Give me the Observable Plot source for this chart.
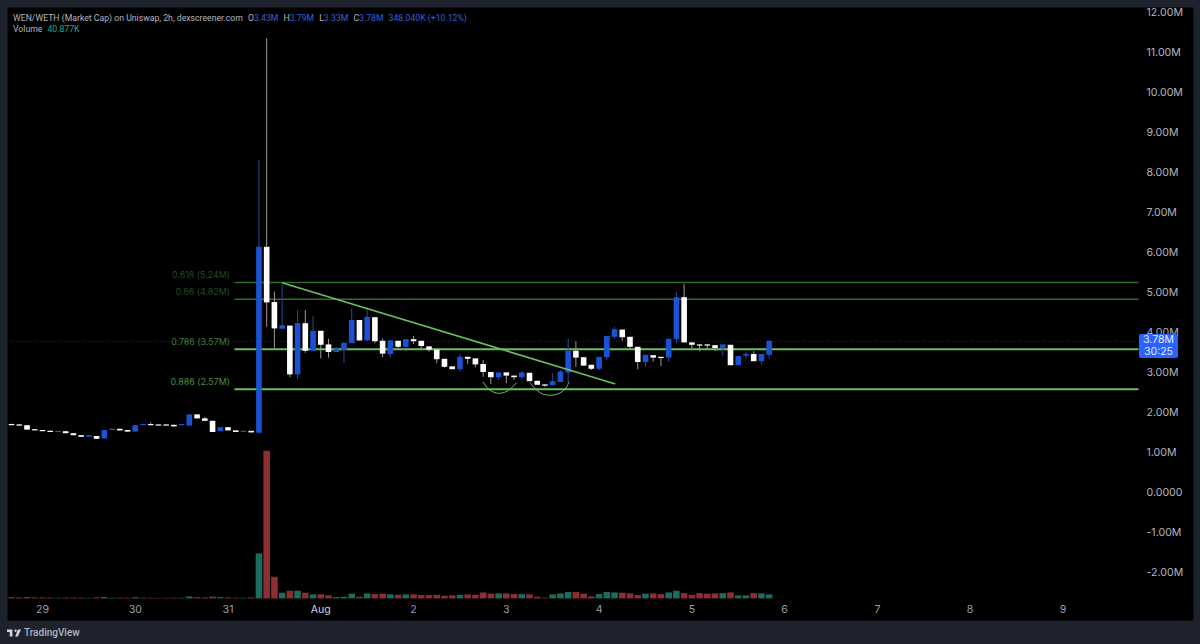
<!DOCTYPE html>
<html>
<head>
<meta charset="utf-8">
<script src="https://cdn.jsdelivr.net/npm/d3@7"></script>
<script src="https://cdn.jsdelivr.net/npm/@observablehq/plot@0.6"></script>
<style>
html,body{margin:0;padding:0;background:#1e222d;width:1200px;height:644px;overflow:hidden;font-family:Inter,"Noto Sans",sans-serif;}
#wrap{position:relative;width:1200px;height:644px;}
#wrap svg{display:block;}
.hdr{position:absolute;left:13px;font-family:Roboto,sans-serif;font-size:8.7px;line-height:12px;color:#b2b5be;white-space:nowrap;}
.hdr b{font-weight:400;color:#2f62d8;}
.hdr i{font-style:normal;color:#22ab94;}
.hdr span{margin-left:5px;}
.hdr span:first-child{margin-left:0;}
#badge{position:absolute;left:1139px;top:334px;width:39px;height:24px;background:#2962ff;border-radius:2px;color:#e8ecff;font-size:10.5px;line-height:12px;text-align:center;}
#tv{position:absolute;left:7px;top:625px;height:14px;display:flex;align-items:center;gap:3px;color:#b2b5be;font-family:Roboto,sans-serif;font-size:10px;font-weight:500;}
</style>
</head>
<body>
<div id="wrap"></div>
<script>
// Candles start 28 Jul 2024 16:00 UTC, one every 2 hours. Values in millions.
const startTime = Date.UTC(2024, 6, 28, 16);
const opens = [1.70,1.69,1.67,1.57,1.55,1.53,1.50,1.52,1.47,1.42,1.38,1.40,1.34,1.55,1.58,1.55,1.51,1.67,1.70,1.69,1.69,1.68,1.67,1.66,1.94,1.84,1.78,1.52,1.62,1.54,1.50,1.53,
  1.48,6.13,4.75,4.08,4.16,2.94,4.22,3.53,4.03,3.69,3.50,3.55,3.72,4.30,3.79,4.37,3.78,3.45,3.78,3.63,3.82,3.78,3.64,3.56,3.33,3.14,3.07,3.38,3.34,3.20,3.00,2.87,2.99,2.91,2.87,2.98,2.78,2.69,2.67,2.75,2.99,3.53,3.37,3.18,3.08,3.37,3.88,4.06,3.88,3.63,3.25,3.42,3.38,3.36,3.82,4.87,3.74,3.69,3.69,3.67,3.60,3.68,3.17,3.41,3.45,3.27,3.43];
const closes = [1.69,1.67,1.56,1.54,1.52,1.50,1.52,1.47,1.42,1.38,1.42,1.33,1.55,1.58,1.54,1.51,1.67,1.70,1.68,1.68,1.68,1.64,1.68,1.94,1.84,1.78,1.50,1.62,1.54,1.50,1.53,1.49,
  6.13,4.74,4.09,4.17,2.94,4.22,3.53,4.03,3.68,3.50,3.58,3.73,4.30,3.79,4.38,3.77,3.46,3.79,3.63,3.82,3.77,3.65,3.56,3.32,3.13,3.07,3.38,3.33,3.19,3.00,2.87,2.99,2.91,2.87,2.99,2.77,2.68,2.67,2.77,3.01,3.53,3.36,3.16,3.08,3.38,3.90,4.07,3.87,3.63,3.25,3.43,3.36,3.36,3.83,4.87,3.74,3.68,3.67,3.67,3.60,3.69,3.17,3.40,3.45,3.27,3.45,3.78];
const highs = [1.71,1.70,1.67,1.57,1.55,1.53,1.53,1.52,1.47,1.42,1.42,1.40,1.55,1.59,1.58,1.55,1.67,1.71,1.74,1.69,1.69,1.68,1.68,1.94,1.94,1.88,1.78,1.62,1.62,1.54,1.53,1.53,
  8.30,11.35,5.01,5.18,4.16,4.55,4.55,4.40,4.03,3.83,3.63,3.73,4.59,4.30,4.63,4.37,3.84,3.79,3.78,3.82,3.90,3.78,3.64,3.56,3.33,3.14,3.44,3.38,3.34,3.30,3.00,2.99,2.99,2.91,3.02,2.98,2.78,2.69,2.97,3.05,3.84,3.76,3.37,3.18,3.38,3.90,4.13,4.06,3.88,3.63,3.43,3.42,3.38,3.83,5.01,5.20,3.74,3.69,3.69,3.67,3.69,3.68,3.40,3.51,3.52,3.45,3.79];
const lows = [1.69,1.67,1.56,1.54,1.52,1.50,1.50,1.47,1.42,1.38,1.38,1.33,1.34,1.55,1.54,1.51,1.51,1.67,1.68,1.68,1.68,1.64,1.66,1.66,1.84,1.78,1.50,1.52,1.54,1.50,1.50,1.49,
  1.48,4.13,3.59,4.08,2.87,2.82,3.48,3.53,3.34,3.36,3.50,3.23,3.72,3.79,3.79,3.72,3.37,3.37,3.55,3.63,3.70,3.57,3.51,3.22,3.11,3.07,3.02,3.20,3.12,2.88,2.70,2.80,2.72,2.80,2.82,2.77,2.68,2.63,2.67,2.75,2.76,3.13,3.16,3.05,3.05,3.30,3.82,3.78,3.59,3.07,3.12,3.26,3.15,3.26,3.72,3.74,3.59,3.52,3.59,3.53,3.40,3.17,3.17,3.34,3.27,3.19,3.33];
const volumes = [12,10,14,10,10,9,6,8,8,7,5,10,14,6,8,7,12,7,6,5,6,7,6,20,12,10,18,12,10,7,6,10,
  460,1510,221,58,78,78,58,41,41,31,14,17,48,17,51,44,48,41,37,41,41,34,34,37,27,31,37,41,37,61,48,51,51,44,44,41,17,7,41,51,65,65,48,20,44,65,61,58,51,34,48,51,44,61,78,54,37,54,48,51,54,61,31,31,54,51,41];

const priceTicks = [12,11,10,9,8,7,6,5,4,3,2,1,0,-1,-2];
const priceLabels = ["12.00M","11.00M","10.00M","9.00M","8.00M","7.00M","6.00M","5.00M","4.00M","3.00M","2.00M","1.00M","0.0000","-1.00M","-2.00M"];
const dayTicks = ["2024-07-29","2024-07-30","2024-07-31","2024-08-01","2024-08-02","2024-08-03","2024-08-04","2024-08-05","2024-08-06","2024-08-07","2024-08-08","2024-08-09"];
const dayLabels = ["29","30","31","Aug","2","3","4","5","6","7","8","9"];

const fibLevels = [5.25,4.83,3.58,2.58];
const fibLabels = ["0.618 (5.24M)","0.66 (4.82M)","0.786 (3.57M)","0.886 (2.57M)"];
const fibTextColors = ["#1f4d26","#1f4d26","#3f7d40","#4a8c48"];
const fibLineColors = ["#2f6a2f","#2f6a2f","#6cbf60","#6cbf60"];
const fibWidths = [1.4,1.4,2,2];
const fibFrom = new Date("2024-07-31T01:48Z");
const fibTo = new Date("2024-08-09T19:40Z");

const trendTimes = ["2024-07-31T14:10Z","2024-08-04T04:00Z"];
const trendValues = [5.24,2.72];
const arc1Times = ["2024-08-02T18:00Z","2024-08-02T19:36Z","2024-08-02T22:12Z","2024-08-03T00:48Z","2024-08-03T02:36Z"];
const arc1Values = [2.76,2.57,2.48,2.57,2.74];
const arc2Times = ["2024-08-03T06:12Z","2024-08-03T08:12Z","2024-08-03T11:12Z","2024-08-03T14:36Z","2024-08-03T16:12Z"];
const arc2Values = [2.74,2.53,2.43,2.53,2.76];

const lastPrice = 3.78;
const volumeBase = -2.66;      // the volume pane's zero on the shared axis
const volumePerUnit = 409;     // thousands of volume per axis unit

const candles = opens.map((o,i)=>({
  t:new Date(startTime + i*2*3600e3),
  open:o, close:closes[i], high:highs[i], low:lows[i], vol:volumes[i],
  up:closes[i] >= o
}));
const upC = candles.filter(d=>d.up), dnC = candles.filter(d=>!d.up);
const fibs = fibLevels.map((v,i)=>({v,label:fibLabels[i],tc:fibTextColors[i],lc:fibLineColors[i],w:fibWidths[i]}));
const trend = trendTimes.map((t,i)=>({t:new Date(t),v:trendValues[i]}));
const arc1 = arc1Times.map((t,i)=>({t:new Date(t),v:arc1Values[i]}));
const arc2 = arc2Times.map((t,i)=>({t:new Date(t),v:arc2Values[i]}));
const ticksY = priceTicks.map((v,i)=>({v,label:priceLabels[i]}));
const ticksX = dayTicks.map((d,i)=>({t:new Date(d+"T00:00Z"),label:dayLabels[i]}));

const BLUE="#1b52d4", WHITE="#ffffff", BW="#2c4a94", GW="#9a9a9a", VG="#1c6b5c", VR="#8f2d35", GREEN="#6cbf60";
const volY = d => volumeBase + d.vol/volumePerUnit;
const domainStart = new Date("2024-07-28T14:57Z"), domainEnd = new Date("2024-08-10T09:47Z");

const chart = Plot.plot({
  width:1200, height:644,
  marginTop:7, marginBottom:24, marginLeft:7, marginRight:7,
  style:{background:"#1e222d", fontFamily:"Inter, 'Noto Sans', sans-serif", overflow:"visible"},
  x:{type:"utc", domain:[domainStart, domainEnd], axis:null},
  y:{domain:[-3.2,12.125], axis:null},
  marks:[
    Plot.frame({fill:"#000000", stroke:"none"}),
    Plot.ruleX(candles.filter(d=>d.up),{x:"t",y1:()=>volumeBase,y2:volY,stroke:VG,strokeWidth:6.6}),
    Plot.ruleX(candles.filter(d=>!d.up),{x:"t",y1:()=>volumeBase,y2:volY,stroke:VR,strokeWidth:6.6}),
    Plot.ruleY([lastPrice],{x1:domainStart,x2:fibTo,stroke:"#1d2f63",strokeWidth:1,strokeDasharray:"1,2"}),
    Plot.ruleY(fibs,{y:"v",x1:()=>fibFrom,x2:()=>fibTo,stroke:"lc",strokeWidth:"w"}),
    Plot.text(fibs,{x:()=>fibFrom,y:"v",text:"label",fill:"tc",textAnchor:"end",dx:-5,dy:-7,fontSize:8.9}),
    Plot.ruleX(upC,{x:"t",y1:"low",y2:"high",stroke:BW,strokeWidth:1}),
    Plot.ruleX(dnC,{x:"t",y1:"low",y2:"high",stroke:GW,strokeWidth:1}),
    Plot.ruleX(upC,{x:"t",y1:"open",y2:d=>Math.abs(d.close-d.open)<0.03?d.open+0.03:d.close,stroke:BLUE,strokeWidth:5.6}),
    Plot.ruleX(dnC,{x:"t",y1:"open",y2:d=>Math.abs(d.close-d.open)<0.03?d.open-0.03:d.close,stroke:WHITE,strokeWidth:5.6}),
    Plot.line(trend,{x:"t",y:"v",stroke:GREEN,strokeWidth:1.6}),
    Plot.line(arc1,{x:"t",y:"v",stroke:GREEN,strokeWidth:1,curve:"natural"}),
    Plot.line(arc2,{x:"t",y:"v",stroke:GREEN,strokeWidth:1,curve:"natural"}),
    Plot.text(ticksY,{y:"v",text:"label",frameAnchor:"right",textAnchor:"start",dx:-47,fill:"#b2b5be",fontSize:10.6}),
    Plot.text(ticksX,{x:"t",text:"label",frameAnchor:"bottom",dy:-8,fill:d=>d.label==="Aug"?"#d1d4dc":"#9a9ea8",fontSize:10.6,fontWeight:d=>d.label==="Aug"?500:400})
  ]
});
const wrap = document.getElementById("wrap");
wrap.appendChild(chart);

const h1=document.createElement("div");h1.className="hdr";h1.style.top="12px";
h1.innerHTML='<span>WEN/WETH (Market Cap) on Uniswap, 2h, dexscreener.com</span><span>O<b>3.43M</b></span><span>H<b>3.79M</b></span><span>L<b>3.33M</b></span><span>C<b>3.78M</b></span><span><b>348.040K (+10.12%)</b></span>';
wrap.appendChild(h1);
const h2=document.createElement("div");h2.className="hdr";h2.style.top="23px";
h2.innerHTML='<span>Volume</span><span><i>40.877K</i></span>';
wrap.appendChild(h2);
const b=document.createElement("div");b.id="badge";b.innerHTML="3.78M<br>30:25";wrap.appendChild(b);
const tv=document.createElement("div");tv.id="tv";
tv.innerHTML='<svg width="14" height="9" viewBox="0 0 36 21" fill="#d1d4dc" style="display:block"><path d="M14 3H0v6h7v12h7V3zm14 18h-7l7-18h8l-8 18zM22 9a3 3 0 1 0 0-6 3 3 0 0 0 0 6z"/></svg><span>TradingView</span>';
wrap.appendChild(tv);
</script>
</body>
</html>
